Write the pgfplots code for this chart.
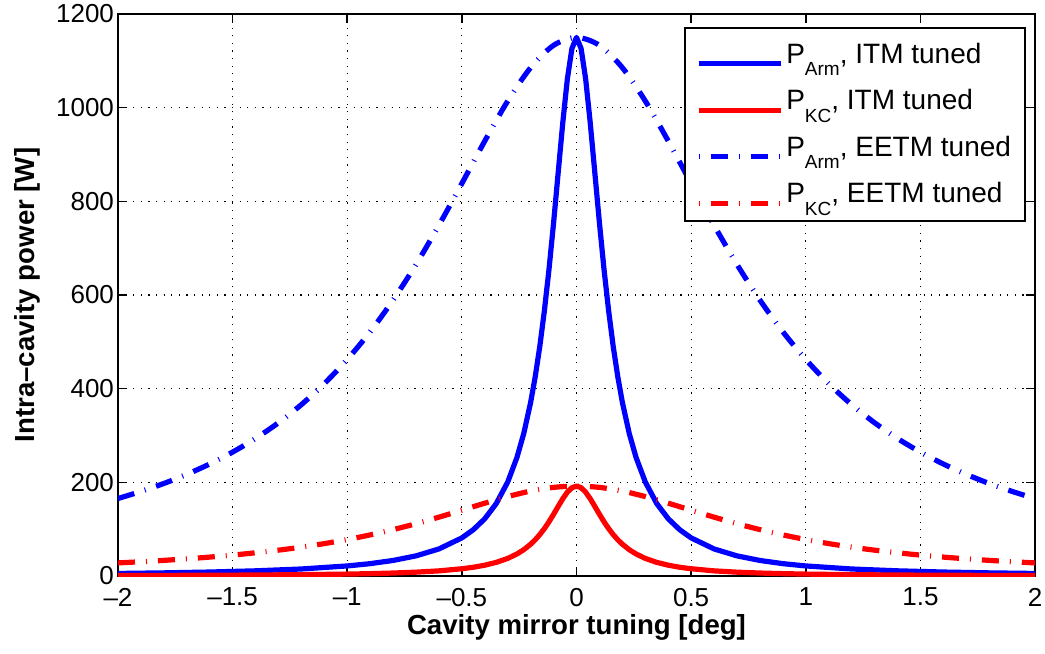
\documentclass[border=0pt]{standalone}
\usepackage{fontspec}
\setmainfont{Liberation Sans}
\usepackage{pgfplots}
\pgfplotsset{compat=1.18}
\usepackage{pgfplotstable}
\newcommand{\lsub}[1]{\raisebox{-6.3pt}{\fontsize{9.5}{10}\selectfont #1}}

\pgfplotstableread{
x y
-2.00 5.45
-1.80 6.72
-1.60 8.49
-1.40 11.07
-1.20 15.0
-1.00 21.5
-0.90 26.4
-0.80 33.2
-0.70 43.0
-0.60 57.8
-0.50 81.4
-0.45 98.9
-0.40 122.3
-0.35 154.7
-0.30 200.8
-0.26 252.8
-0.23 304.4
-0.20 370.9
-0.18 425.7
-0.16 490.6
-0.14 566.8
-0.12 654.8
-0.10 754.0
-0.08 860.7
-0.06 967.2
-0.04 1060.9
-0.02 1126.3
0.00 1150
0.02 1126.3
0.04 1060.9
0.06 967.2
0.08 860.7
0.10 754.0
0.12 654.8
0.14 566.8
0.16 490.6
0.18 425.7
0.20 370.9
0.23 304.4
0.26 252.8
0.30 200.8
0.35 154.7
0.40 122.3
0.45 98.9
0.50 81.4
0.60 57.8
0.70 43.0
0.80 33.2
0.90 26.4
1.00 21.5
1.20 15.0
1.40 11.07
1.60 8.49
1.80 6.72
2.00 5.45
}\armitm

\pgfplotstableread{
x y
-2.00 1.05
-1.80 1.29
-1.60 1.63
-1.40 2.12
-1.20 2.88
-1.00 4.11
-0.90 5.05
-0.80 6.35
-0.70 8.21
-0.60 11.0
-0.50 15.5
-0.45 18.7
-0.40 23.1
-0.35 29.1
-0.30 37.6
-0.26 47.0
-0.23 56.2
-0.20 67.9
-0.18 77.4
-0.16 88.5
-0.14 101.3
-0.12 115.8
-0.10 131.8
-0.08 148.6
-0.06 164.9
-0.04 178.9
-0.02 188.6
0.00 192
0.02 188.6
0.04 178.9
0.06 164.9
0.08 148.6
0.10 131.8
0.12 115.8
0.14 101.3
0.16 88.5
0.18 77.4
0.20 67.9
0.23 56.2
0.26 47.0
0.30 37.6
0.35 29.1
0.40 23.1
0.45 18.7
0.50 15.5
0.60 11.0
0.70 8.21
0.80 6.35
0.90 5.05
1.00 4.11
1.20 2.88
1.40 2.12
1.60 1.63
1.80 1.29
2.00 1.05
}\kcitm

\pgfplotstableread{
x y
-2.0 165.5
-1.9 180.6
-1.8 197.6
-1.7 217.1
-1.6 239.2
-1.5 264.6
-1.4 293.7
-1.3 327.3
-1.2 366.0
-1.1 410.8
-1.0 462.4
-0.9 521.6
-0.8 589.2
-0.7 665.2
-0.6 749.0
-0.5 838.3
-0.4 928.9
-0.3 1014.3
-0.2 1085.4
-0.1 1133.1
0.0 1150
0.1 1133.1
0.2 1085.4
0.3 1014.3
0.4 928.9
0.5 838.3
0.6 749.0
0.7 665.2
0.8 589.2
0.9 521.6
1.0 462.4
1.1 410.8
1.2 366.0
1.3 327.3
1.4 293.7
1.5 264.6
1.6 239.2
1.7 217.1
1.8 197.6
1.9 180.6
2.0 165.5
}\armeetm

\pgfplotstableread{
x y
-2.0 28.0
-1.9 30.5
-1.8 33.4
-1.7 36.7
-1.6 40.4
-1.5 44.7
-1.4 49.6
-1.3 55.2
-1.2 61.7
-1.1 69.2
-1.0 77.9
-0.9 87.8
-0.8 99.1
-0.7 111.7
-0.6 125.7
-0.5 140.5
-0.4 155.5
-0.3 169.6
-0.2 181.4
-0.1 189.2
0.0 192
0.1 189.2
0.2 181.4
0.3 169.6
0.4 155.5
0.5 140.5
0.6 125.7
0.7 111.7
0.8 99.1
0.9 87.8
1.0 77.9
1.1 69.2
1.2 61.7
1.3 55.2
1.4 49.6
1.5 44.7
1.6 40.4
1.7 36.7
1.8 33.4
1.9 30.5
2.0 28.0
}\kceetm

\begin{document}
\begin{tikzpicture}
\begin{axis}[
  name=main,
  width=458.5pt, height=281pt, scale only axis,
  xmin=-2, xmax=2, ymin=0, ymax=1200,
  xtick={-2,-1.5,-1,-0.5,0,0.5,1,1.5,2},
  xticklabels={\textendash2,\textendash1.5,\textendash1,\textendash0.5,0,0.5,1,1.5,2},
  ytick={0,200,400,600,800,1000,1200},
  yticklabel style={/pgf/number format/1000 sep={}, xshift=1.5pt},
  /pgf/number format/assume math mode=true,
  tick align=inside, tick pos=both, major tick length=4.5pt,
  every tick/.style={black, line width=0.8pt},
  grid=major,
  grid style={black, line width=0.6pt, dash pattern=on 0.6pt off 3.2pt},
  axis line style={black, line width=0.9pt},
  tick label style={font=\fontsize{13}{15}\selectfont, black},
  xticklabel style={yshift=-2.5pt},
  xlabel={\bfseries Cavity mirror tuning [deg]},
  ylabel={\bfseries Intra\textendash cavity power [W]},
  label style={font=\fontsize{13.8}{15}\selectfont},
  xlabel style={at={(axis description cs:0.5,0)}, anchor=center, yshift=-25.5pt},
  ylabel style={at={(axis description cs:-0.0987,0.5)}, anchor=center},
  legend cell align=left,
  legend style={at={(1,1)}, anchor=north east, xshift=-4.5pt, yshift=-6.5pt,
    draw=black, line width=1pt, fill=white,
    font=\fontsize{14}{15}\selectfont, inner xsep=5.5pt, inner ysep=5.5pt,
    row sep=7.6pt, nodes={inner xsep=1.5pt}},
  legend image code/.code={\draw[#1, dash phase=14pt] (2pt,-4.5pt) -- (43pt,-4.5pt);},
]
\addplot[blue, line width=2.6pt, line join=round] table {\armitm};
\addlegendentry{P\lsub{Arm}, ITM tuned}
\addplot[red, line width=2.6pt, line join=round] table {\kcitm};
\addlegendentry{P\lsub{KC}, ITM tuned}
\addplot[blue, line width=2.6pt, dash pattern=on 8.5pt off 5.5pt on 0.5pt off 5.5pt, smooth] table {\armeetm};
\addlegendentry{P\lsub{Arm}, EETM tuned}
\addplot[red, line width=2.6pt, dash pattern=on 8.5pt off 5.5pt on 0.5pt off 5.5pt, smooth] table {\kceetm};
\addlegendentry{P\lsub{KC}, EETM tuned}
\end{axis}
\pgfresetboundingbox
\path[use as bounding box] ([shift={(-59pt,-38.5pt)}]main.south west) rectangle ([shift={(5pt,7pt)}]main.north east);
\end{tikzpicture}
\end{document}
